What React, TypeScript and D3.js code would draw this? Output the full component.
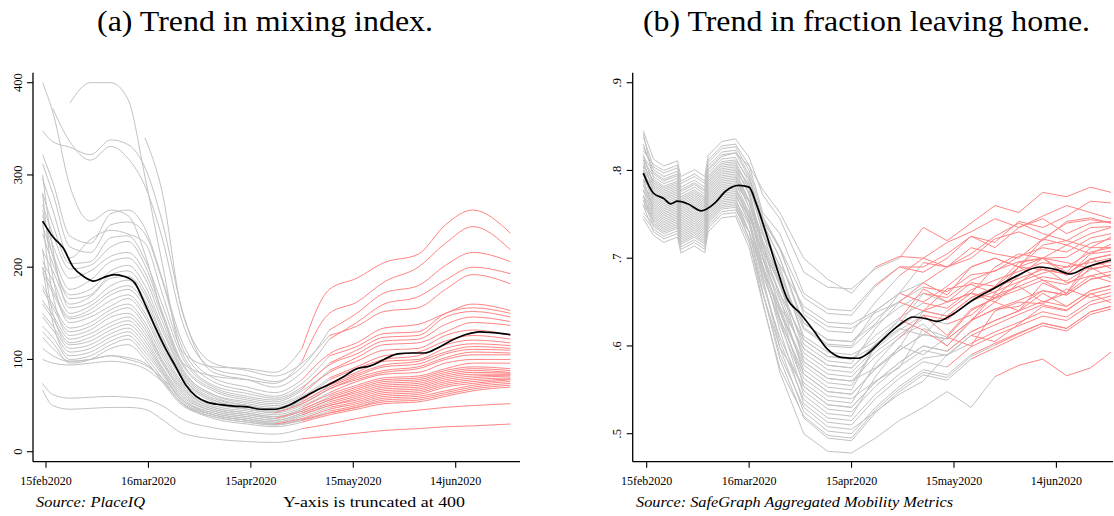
import React from "react";
import * as d3 from "d3";

// ---------- shared ----------
const BASE_DAY = Date.UTC(2020, 1, 14); // day 0 = 14feb2020
const tickDays = [1, 31, 61, 91, 121];
const tickLabels = ["15feb2020", "16mar2020", "15apr2020", "15may2020", "14jun2020"];

// ---------- panel (a): mixing index ----------
const titleA = "(a) Trend in mixing index.";
const sourceA = "Source: PlaceIQ";
const noteA = "Y-axis is truncated at 400";
const yTicksA = [0, 100, 200, 300, 400];
const yTickLabelsA = ["0", "100", "200", "300", "400"];
const daysA = [0, 3, 8, 14, 20, 25, 30, 35, 41, 50, 60, 68, 76, 84, 92, 100, 110, 118, 126, 137];
const mixingSeries: (number | null)[][] = [
  [null, null, 378, 400, 400, 382, 298, 205, 108, 92, 90, 86, 112, 176, 188, 205, 214, 246, 262, 237],
  [400, 368, 288, 250, 262, 256, 214, 150, 96, 82, 78, 74, 98, 150, 162, 184, 200, 226, 244, 219],
  [null, 372, 336, 316, 331, 318, 288, 232, 140, 90, 82, 76, 92, 132, 150, 172, 180, 202, 216, 206],
  [348, 336, 330, 322, 338, 333, 308, 250, 152, 86, 78, 70, 86, 122, 140, 160, 168, 186, 200, 193],
  [null, null, null, null, null, null, 340, 282, 150, 96, 88, 82, 96, 126, 136, 152, 156, 176, 192, 182],
  [322, 292, 234, 226, 258, 262, 242, 188, 118, 80, 70, 64, 78, 106, 118, 134, 138, 150, 160, 153],
  [312, 280, 222, 216, 246, 249, 236, 186, 112, 76, 66, 60, 74, 104, 114, 128, 130, 150, 156, 150],
  [296, 262, 210, 230, 240, 236, 226, 172, 106, 72, 63, 58, 70, 96, 110, 124, 126, 146, 152, 146],
  [280, 246, 204, 206, 232, 234, 208, 160, 102, 70, 60, 56, 68, 94, 106, 120, 122, 138, 146, 141],
  [268, 236, 198, 202, 222, 228, 202, 152, 96, 68, 58, 54, 66, 88, 102, 116, 118, 130, 140, 137],
  [256, 224, 188, 196, 212, 216, 194, 148, 94, 66, 56, 52, 62, 86, 98, 110, 112, 126, 132, 126],
  [244, 214, 176, 186, 206, 210, 188, 142, 90, 62, 54, 50, 60, 80, 92, 104, 108, 120, 126, 122],
  [236, 204, 170, 176, 196, 202, 180, 136, 88, 62, 52, 48, 58, 78, 90, 100, 104, 116, 121, 118],
  [262, 212, 166, 170, 192, 196, 174, 132, 86, 60, 50, 46, 56, 74, 86, 98, 100, 112, 117, 115],
  [218, 196, 160, 168, 188, 190, 170, 126, 84, 58, 50, 46, 54, 72, 84, 94, 98, 108, 114, 112],
  [300, 220, 156, 162, 180, 186, 164, 124, 82, 56, 48, 44, 54, 70, 82, 92, 95, 106, 111, 110],
  [206, 186, 150, 158, 174, 180, 160, 118, 80, 56, 48, 44, 52, 68, 80, 88, 92, 102, 108, 107],
  [200, 176, 146, 154, 170, 176, 156, 116, 78, 54, 46, 42, 52, 68, 78, 86, 90, 100, 105, 105],
  [194, 172, 144, 150, 164, 170, 150, 112, 74, 52, 46, 42, 50, 64, 76, 84, 86, 96, 100, 100],
  [280, 190, 140, 146, 158, 166, 146, 108, 72, 50, 44, 40, 48, 62, 72, 80, 82, 90, 96, 96],
  [180, 160, 134, 140, 154, 160, 140, 104, 70, 48, 42, 38, 46, 60, 70, 78, 80, 88, 92, 90],
  [176, 156, 130, 136, 150, 156, 136, 100, 68, 48, 42, 38, 46, 58, 68, 76, 78, 86, 90, 88],
  [250, 170, 126, 132, 146, 150, 132, 98, 66, 46, 40, 36, 44, 56, 66, 74, 76, 84, 88, 86],
  [164, 148, 122, 128, 140, 146, 128, 96, 64, 46, 40, 36, 44, 56, 64, 72, 74, 82, 86, 85],
  [160, 144, 118, 124, 136, 142, 124, 92, 62, 44, 38, 34, 42, 54, 62, 70, 72, 80, 84, 84],
  [220, 150, 116, 120, 132, 138, 120, 90, 60, 44, 38, 34, 42, 52, 60, 68, 70, 78, 82, 83],
  [150, 136, 112, 116, 128, 134, 116, 88, 58, 42, 36, 32, 40, 50, 58, 66, 68, 76, 80, 82],
  [146, 132, 108, 112, 124, 130, 112, 86, 56, 42, 36, 32, 40, 50, 56, 64, 66, 74, 78, 80],
  [200, 140, 104, 108, 120, 126, 108, 84, 54, 40, 34, 30, 38, 48, 54, 62, 64, 72, 76, 79],
  [136, 124, 100, 104, 116, 122, 104, 80, 52, 40, 34, 30, 36, 46, 52, 60, 62, 70, 74, 78],
  [130, 118, 96, 100, 112, 116, 100, 76, 50, 38, 32, 29, 35, 44, 50, 58, 60, 66, 72, 76],
  [124, 112, 98, 100, 104, 102, 96, 78, 52, 38, 32, 29, 34, 42, 48, 56, 58, 64, 70, 74],
  [112, 104, 98, 100, 104, 100, 94, 80, 56, 40, 34, 30, 34, 42, 48, 54, 56, 62, 68, 72],
  [100, 96, 94, 96, 98, 96, 90, 76, 52, 36, 30, 27, 32, 40, 46, 52, 54, 60, 66, 70],
  [74, 62, 58, 59, 60, 59, 57, 50, 35, 26, 21, 19, 25, 30, 36, 41, 45, 48, 50, 52],
  [67, 50, 46, 47, 48, 48, 46, 35, 20, 14, 11, 10, 14, 17, 20, 23, 25, 27, 28, 30],
];
const mixingReopen = [76, 76, 84, 84, 84, 76, 84, 84, 76, 84, 76, 84, 84, 76, 84, 76, 84, 68, 84, 76,
  84, 76, 84, 68, 84, 76, 84, 76, 84, 68, 84, 76, 84, 76, 76, 76];
const mixingMeanDays = [0, 3, 6, 9, 12, 15, 18, 21, 24, 27, 30, 33, 36, 39, 42, 45, 48, 52, 56, 60, 64, 68,
  72, 76, 80, 84, 88, 92, 96, 100, 104, 108, 112, 116, 120, 124, 128, 132, 137];
const mixingMean = [250, 233, 221, 200, 190, 185, 189, 192, 190, 183, 160, 135, 112, 92, 72, 60, 54, 51, 49.5,
  48.5, 46, 46, 50, 58, 66, 73, 81, 90, 93, 100, 106, 107, 107, 113, 121, 127, 130, 129, 127];

// ---------- panel (b): fraction leaving home ----------
const titleB = "(b) Trend in fraction leaving home.";
const sourceB = "Source: SafeGraph Aggregated Mobility Metrics";
const yTicksB = [0.5, 0.6, 0.7, 0.8, 0.9];
const yTickLabelsB = [".5", ".6", ".7", ".8", ".9"];
const daysB = [0, 3, 6, 10, 11, 15, 18, 19, 23, 27, 31, 35, 40, 47, 54, 61, 68, 75, 82, 89, 96, 103, 110, 117, 124, 131, 137];
const leavingSeries: number[][] = [
  [.845, .813, .805, .811, .793, .801, .793, .817, .833, .836, .815, .772, .745, .684, .667, .665, .688, .700, .735, .720, .740, .760, .752, .775, .770, .781, .775],
  [.822, .807, .800, .806, .788, .796, .788, .812, .828, .830, .806, .752, .728, .660, .642, .640, .670, .690, .690, .705, .725, .718, .742, .735, .748, .765, .763],
  [.838, .804, .797, .803, .785, .793, .785, .809, .825, .827, .800, .748, .712, .636, .617, .615, .650, .680, .700, .690, .705, .725, .740, .728, .720, .735, .736],
  [.826, .801, .793, .799, .781, .789, .781, .805, .821, .823, .795, .740, .700, .621, .602, .600, .640, .660, .650, .668, .690, .700, .690, .715, .720, .712, .724],
  [.816, .798, .790, .796, .778, .786, .778, .802, .818, .820, .792, .735, .690, .607, .588, .585, .600, .625, .660, .650, .672, .668, .695, .700, .684, .712, .712],
  [.830, .796, .788, .794, .776, .784, .776, .800, .816, .820, .805, .778, .752, .700, .676, .660, .690, .702, .700, .718, .730, .745, .735, .748, .760, .752, .745],
  [.812, .793, .785, .791, .773, .781, .773, .797, .813, .815, .786, .728, .672, .582, .563, .560, .588, .609, .635, .612, .642, .654, .664, .675, .670, .687, .692],
  [.842, .790, .782, .788, .770, .778, .770, .794, .810, .812, .790, .745, .710, .640, .622, .620, .638, .650, .672, .690, .712, .705, .700, .722, .740, .744, .740],
  [.805, .788, .780, .786, .768, .776, .768, .792, .808, .810, .778, .715, .655, .568, .548, .545, .574, .595, .613, .608, .629, .642, .652, .663, .658, .676, .681],
  [.815, .786, .778, .784, .766, .774, .766, .790, .806, .808, .782, .730, .685, .611, .593, .590, .605, .630, .665, .650, .660, .690, .705, .700, .715, .705, .716],
  [.800, .784, .776, .782, .764, .772, .764, .788, .804, .806, .772, .708, .642, .554, .533, .530, .559, .581, .600, .594, .616, .629, .640, .651, .645, .663, .669],
  [.818, .782, .774, .780, .762, .770, .762, .786, .802, .804, .784, .740, .700, .626, .607, .605, .625, .660, .672, .658, .690, .700, .690, .722, .715, .728, .735],
  [.796, .780, .772, .778, .760, .768, .760, .784, .800, .802, .774, .718, .672, .597, .578, .575, .602, .623, .640, .634, .655, .667, .690, .687, .682, .699, .704],
  [.808, .778, .770, .776, .758, .766, .758, .782, .798, .800, .765, .700, .630, .544, .523, .520, .565, .600, .590, .610, .600, .640, .650, .648, .665, .655, .661],
  [.790, .776, .768, .774, .756, .764, .756, .780, .796, .798, .780, .742, .712, .655, .637, .635, .668, .690, .684, .700, .725, .712, .735, .745, .728, .740, .742],
  [.812, .774, .766, .772, .754, .762, .754, .778, .794, .796, .766, .710, .660, .587, .568, .565, .593, .613, .631, .625, .635, .658, .668, .679, .674, .691, .696],
  [.790, .772, .764, .770, .752, .760, .752, .776, .792, .794, .758, .690, .618, .534, .513, .510, .540, .563, .582, .576, .599, .612, .623, .634, .629, .647, .653],
  [.800, .770, .762, .768, .750, .758, .750, .774, .790, .792, .766, .715, .668, .602, .583, .580, .620, .650, .640, .665, .670, .660, .690, .700, .680, .705, .708],
  [.782, .768, .760, .766, .748, .756, .748, .772, .788, .790, .758, .700, .645, .573, .553, .550, .600, .620, .612, .640, .660, .650, .672, .690, .672, .680, .685],
  [.804, .766, .758, .764, .746, .754, .746, .770, .786, .788, .765, .720, .680, .619, .600, .598, .624, .644, .660, .655, .675, .686, .696, .700, .701, .717, .722],
  [.778, .764, .756, .762, .744, .752, .744, .768, .784, .786, .752, .692, .632, .563, .543, .540, .560, .575, .620, .610, .640, .655, .668, .650, .660, .690, .677],
  [.796, .762, .754, .760, .742, .750, .742, .766, .782, .784, .764, .726, .692, .645, .627, .625, .640, .660, .695, .690, .700, .722, .730, .720, .742, .746, .740],
  [.776, .760, .752, .758, .740, .748, .740, .764, .780, .782, .745, .676, .598, .525, .503, .500, .530, .554, .573, .567, .590, .603, .615, .626, .620, .639, .645],
  [.788, .758, .750, .756, .738, .746, .738, .762, .778, .780, .752, .700, .652, .592, .573, .570, .597, .618, .635, .630, .651, .662, .673, .683, .690, .695, .700],
  [.770, .756, .748, .754, .736, .744, .736, .760, .776, .778, .745, .685, .625, .558, .538, .535, .580, .610, .625, .600, .630, .650, .640, .672, .660, .680, .673],
  [.790, .754, .746, .752, .734, .742, .734, .758, .774, .776, .750, .702, .660, .607, .588, .585, .612, .632, .649, .643, .664, .675, .685, .695, .690, .707, .712],
  [.766, .752, .744, .750, .732, .740, .732, .756, .772, .774, .740, .676, .605, .539, .518, .515, .545, .568, .586, .590, .603, .616, .627, .639, .633, .651, .657],
  [.784, .750, .742, .748, .730, .738, .730, .754, .770, .772, .742, .690, .638, .578, .558, .555, .600, .630, .618, .600, .628, .660, .690, .675, .660, .700, .688],
  [.762, .748, .740, .746, .728, .736, .728, .752, .768, .770, .748, .708, .672, .626, .607, .605, .631, .651, .667, .662, .681, .685, .702, .712, .707, .723, .728],
  [.778, .746, .738, .744, .726, .734, .726, .750, .766, .768, .730, .662, .585, .518, .495, .492, .524, .548, .567, .561, .585, .598, .611, .623, .617, .636, .642],
  [.760, .744, .736, .742, .724, .732, .724, .748, .764, .766, .738, .688, .640, .582, .563, .560, .575, .598, .640, .650, .660, .655, .680, .700, .695, .688, .692],
  [.772, .742, .734, .740, .722, .730, .722, .746, .762, .764, .730, .670, .610, .549, .528, .525, .554, .577, .595, .589, .612, .624, .636, .647, .641, .659, .665],
  [.770, .740, .732, .738, .720, .728, .720, .744, .760, .762, .722, .650, .570, .500, .480, .478, .495, .515, .530, .548, .530, .565, .578, .585, .566, .575, .593],
  [.752, .738, .730, .736, .718, .726, .718, .742, .758, .760, .730, .680, .630, .568, .548, .545, .574, .595, .613, .608, .629, .642, .645, .663, .658, .676, .681],
  [.766, .736, .728, .734, .716, .724, .716, .740, .756, .758, .722, .660, .590, .530, .508, .505, .525, .545, .560, .590, .612, .605, .625, .645, .640, .660, .649],
  [.748, .733, .725, .731, .713, .721, .713, .737, .753, .755, .730, .685, .645, .597, .578, .575, .602, .623, .640, .634, .655, .667, .677, .687, .682, .699, .704],
  [.760, .730, .722, .728, .710, .718, .710, .734, .750, .752, .718, .660, .598, .554, .533, .530, .559, .581, .600, .594, .616, .629, .640, .660, .645, .663, .669],
  [.745, .726, .718, .724, .706, .714, .706, .730, .746, .748, .712, .648, .575, .520, .498, .495, .527, .551, .570, .564, .588, .601, .614, .626, .620, .639, .645],
];
const leavingReopen = [75, 75, 75, 75, 89, 68, 75, 75, 89, 75, 89, 82, 82, 89, 68, 89, 89, 75, 89, 82,
  89, 82, 96, 82, 96, 82, 96, 75, 82, 96, 82, 96, 103, 96, 96, 89, 96, 103];
const leavingMeanDays = [0, 3, 6, 8, 10, 13, 17, 21, 24, 28, 31, 33, 36, 39, 42, 46, 50, 54, 58, 63, 66, 69,
  75, 79, 83, 86, 91, 96, 102, 109, 116, 121, 125, 130, 137];
const leavingMean = [.797, .774, .768, .762, .765, .762, .754, .763, .776, .783, .781, .763, .728, .69, .655, .637,
  .617, .596, .587, .586, .592, .603, .624, .633, .631, .628, .637, .651, .664, .679, .690, .687, .682, .690, .698];

// ---------- drawing ----------
const GRAY = "#c2c2c2";
const RED = "#ff8484";
const FONT = "Liberation Serif, Times New Roman, serif";
const toDate = (d: number) => new Date(BASE_DAY + d * 86400000);

type PanelProps = {
  days: number[];
  series: (number | null)[][];
  reopen: number[];
  meanDays: number[];
  mean: number[];
  x: d3.ScaleTime<number, number>;
  y: d3.ScaleLinear<number, number>;
  yTicks: number[];
  yTickLabels: string[];
  left: number;
  right: number;
  top: number;
  bottom: number;
  curve: d3.CurveFactory;
};

function Panel(p: PanelProps) {
  const line = d3
    .line<[number, number | null]>()
    .defined((d) => d[1] != null)
    .x((d) => p.x(toDate(d[0])))
    .y((d) => p.y(d[1] as number))
    .curve(p.curve);
  const meanLine = d3
    .line<[number, number]>()
    .x((d) => p.x(toDate(d[0])))
    .y((d) => p.y(d[1]))
    .curve(d3.curveMonotoneX);

  const pts = (s: (number | null)[]) => p.days.map((d, i) => [d, s[i]] as [number, number | null]);

  return (
    <g>
      {p.series.map((s, i) => (
        <path key={"g" + i} d={line(pts(s).filter((q) => q[0] <= p.reopen[i])) || ""} fill="none" stroke={GRAY} strokeWidth={1} />
      ))}
      {p.series.map((s, i) => (
        <path key={"r" + i} d={line(pts(s).filter((q) => q[0] >= p.reopen[i])) || ""} fill="none" stroke={RED} strokeWidth={1} />
      ))}
      <path
        d={meanLine(p.meanDays.map((d, i) => [d, p.mean[i]] as [number, number])) || ""}
        fill="none"
        stroke="#000"
        strokeWidth={1.7}
      />
      <line x1={p.left} x2={p.left} y1={p.top} y2={p.bottom} stroke="#000" strokeWidth={1.3} />
      <line x1={p.left} x2={p.right} y1={p.bottom} y2={p.bottom} stroke="#000" strokeWidth={1.3} />
      {p.yTicks.map((t, i) => (
        <g key={"yt" + i}>
          <line x1={p.left - 6} x2={p.left} y1={p.y(t)} y2={p.y(t)} stroke="#000" strokeWidth={1.1} />
          <text
            transform={`translate(${p.left - 11.5},${p.y(t)}) rotate(-90)`}
            textAnchor="middle"
            style={{ fontFamily: FONT, fontSize: 12.5 }}
            fill="#000"
          >
            {p.yTickLabels[i]}
          </text>
        </g>
      ))}
      {tickDays.map((d, i) => (
        <g key={"xt" + i}>
          <line x1={p.x(toDate(d))} x2={p.x(toDate(d))} y1={p.bottom} y2={p.bottom + 6} stroke="#000" strokeWidth={1.1} />
          <text x={p.x(toDate(d))} y={p.bottom + 23.5} textAnchor="middle" style={{ fontFamily: FONT, fontSize: 12 }} fill="#000">
            {tickLabels[i]}
          </text>
        </g>
      ))}
    </g>
  );
}

export default function App() {
  const domain = [toDate(1), toDate(121)];
  const xA = d3.scaleUtc().domain(domain).range([46, 455.7]);
  const yA = d3.scaleLinear().domain([0, 400]).range([451.7, 82.7]);
  const xB = d3.scaleUtc().domain(domain).range([646.7, 1056.4]);
  const yB = d3.scaleLinear().domain([0.5, 0.9]).range([433.7, 82.7]);

  return (
    <svg width={1114} height={516} style={{ position: "absolute", left: 0, top: 0, background: "#fff" }}>
      <rect width={1114} height={516} fill="#fff" />
      <text x={265} y={31} textAnchor="middle" style={{ fontFamily: FONT, fontSize: 30 }} textLength={336} lengthAdjust="spacingAndGlyphs">
        {titleA}
      </text>
      <text x={866.5} y={31} textAnchor="middle" style={{ fontFamily: FONT, fontSize: 30 }} textLength={447} lengthAdjust="spacingAndGlyphs">
        {titleB}
      </text>
      <Panel
        days={daysA}
        series={mixingSeries}
        reopen={mixingReopen}
        meanDays={mixingMeanDays}
        mean={mixingMean}
        x={xA}
        y={yA}
        yTicks={yTicksA}
        yTickLabels={yTickLabelsA}
        left={33}
        right={520}
        top={72.7}
        bottom={461.7}
        curve={d3.curveMonotoneX}
      />
      <Panel
        days={daysB}
        series={leavingSeries}
        reopen={leavingReopen}
        meanDays={leavingMeanDays}
        mean={leavingMean}
        x={xB}
        y={yB}
        yTicks={yTicksB}
        yTickLabels={yTickLabelsB}
        left={632.7}
        right={1113}
        top={72.7}
        bottom={461.7}
        curve={d3.curveLinear}
      />
      <text x={36} y={507} style={{ fontFamily: FONT, fontStyle: "italic", fontSize: 15.5 }} textLength={109} lengthAdjust="spacingAndGlyphs">
        {sourceA}
      </text>
      <text x={283} y={507} style={{ fontFamily: FONT, fontSize: 15.5 }} textLength={182} lengthAdjust="spacingAndGlyphs">
        {noteA}
      </text>
      <text x={636} y={507} style={{ fontFamily: FONT, fontStyle: "italic", fontSize: 15.5 }} textLength={317} lengthAdjust="spacingAndGlyphs">
        {sourceB}
      </text>
    </svg>
  );
}
